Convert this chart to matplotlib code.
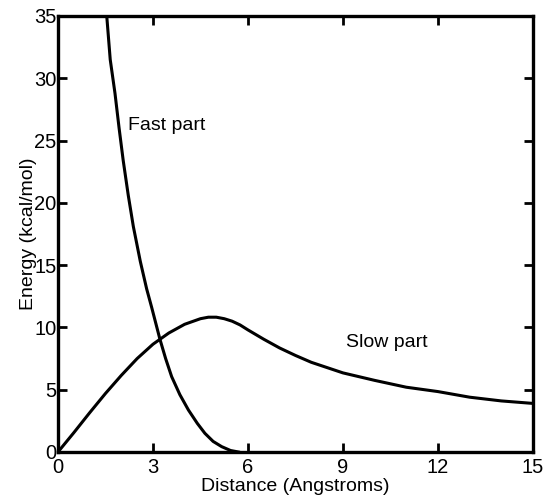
import matplotlib

matplotlib.use("Agg")
import matplotlib.pyplot as plt

plt.rcParams["font.family"] = ["Liberation Sans", "DejaVu Sans"]

# curva "fast part"
fast_x = [1.54, 1.65, 1.80, 1.93, 2.06, 2.22, 2.38, 2.60, 2.80, 2.96, 3.22,
          3.40, 3.59, 3.85, 4.12, 4.40, 4.64, 4.90, 5.17, 5.45, 5.70]
fast_y = [35.0, 31.5, 28.8, 26.0, 23.4, 20.6, 18.1, 15.3, 13.1, 11.6, 9.05,
          7.5, 6.05, 4.6, 3.37, 2.3, 1.5, 0.85, 0.43, 0.12, 0.0]

# curva "slow part"
slow_x = [0, 0.5, 1, 1.5, 2, 2.5, 3, 3.5, 4, 4.5, 4.75, 5, 5.25, 5.5, 5.75,
          6, 6.5, 7, 7.5, 8, 9, 10, 11, 12, 13, 14, 15]
slow_y = [0, 1.55, 3.15, 4.7, 6.15, 7.5, 8.65, 9.55, 10.25, 10.7, 10.82, 10.82,
          10.7, 10.5, 10.2, 9.8, 9.05, 8.35, 7.75, 7.2, 6.35, 5.75, 5.2, 4.85,
          4.4, 4.1, 3.9]

x_ticks = [0, 3, 6, 9, 12, 15]
y_ticks = [0, 5, 10, 15, 20, 25, 30, 35]

fig = plt.figure(figsize=(5.46, 4.99), dpi=100)
ax = fig.add_axes([0.1062, 0.0942, 0.8698, 0.8738])

ax.plot(fast_x, fast_y, color="black", lw=2.2, solid_joinstyle="round")
ax.plot(slow_x, slow_y, color="black", lw=2.2, solid_joinstyle="round")

ax.text(2.2, 26.2, "Fast part", fontsize=14, va="center", ha="left")
ax.text(9.1, 8.75, "Slow part", fontsize=14, va="center", ha="left")

ax.set_xlim(0, 15)
ax.set_ylim(0, 35)
ax.set_xticks(x_ticks)
ax.set_yticks(y_ticks)
ax.tick_params(direction="in", length=6.5, width=2, labelsize=14.5,
               top=True, right=True)
ax.tick_params(axis="x", pad=4)
ax.tick_params(axis="y", pad=1)
for s in ax.spines.values():
    s.set_linewidth(2.4)

ax.set_xlabel("Distance (Angstroms)", fontsize=14, labelpad=1)
ax.set_ylabel("Energy (kcal/mol)", fontsize=14, labelpad=-2)

fig.savefig("out.png", dpi=100)
